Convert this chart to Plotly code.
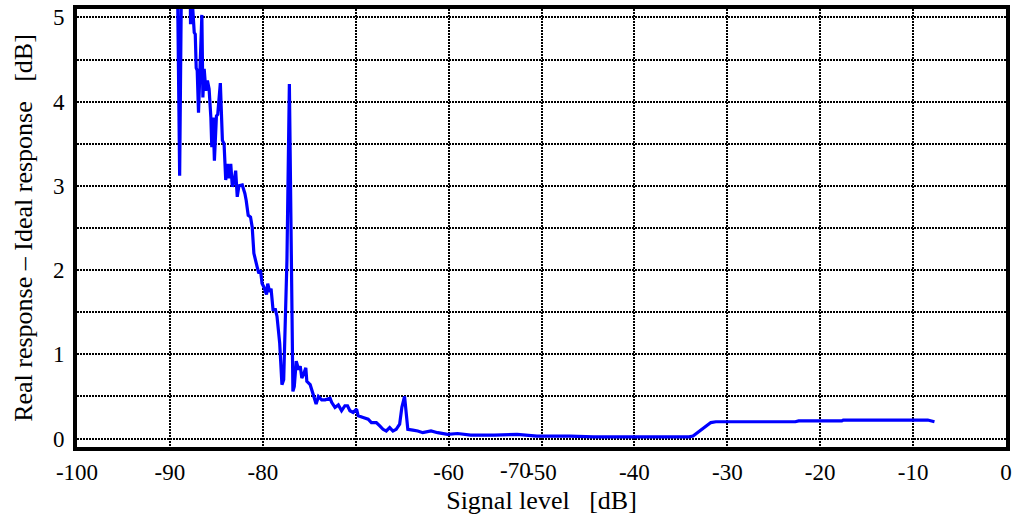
import plotly.graph_objects as go

signal_level = [
    -89.31, -89.17, -88.95, -88.77, -88.34, -87.81, -87.78, -87.65, -87.38, -87.27,
    -87.17, -87.06, -86.92, -86.56, -86.45, -86.31, -86.13, -85.96, -85.78, -85.59,
    -85.49, -85.35, -85.21, -84.99, -84.85, -84.57, -84.35, -84.17, -83.99, -83.82,
    -83.64, -83.45, -83.28, -83.10, -82.92, -82.75, -82.57, -82.21, -81.93, -81.79,
    -81.57, -81.32, -81.14, -80.96, -80.61, -80.43, -80.25, -80.08, -79.89, -79.60,
    -79.47, -79.25, -79.11, -78.90, -78.64, -78.47, -78.18, -77.94, -77.75, -77.57,
    -77.40, -77.14, -76.93, -76.76, -76.61, -76.40, -76.15, -75.97, -75.80, -75.62,
    -75.37, -75.26, -74.90, -74.55, -74.26, -74.01, -73.66, -73.29, -72.76, -72.59,
    -72.23, -71.87, -71.52, -71.16, -70.88, -70.62, -70.27, -69.91, -69.73, -69.20,
    -68.66, -68.31, -67.78, -67.41, -67.06, -66.71, -66.34, -65.99, -65.64, -65.27,
    -65.03, -64.74, -64.57, -64.39, -63.85, -63.32, -62.78, -61.89, -61.18, -60.11,
    -59.04, -57.62, -55.08, -52.62, -50.48, -46.95, -44.39, -38.72, -34.12, -33.69,
    -33.02, -31.77, -31.23, -28.38, -22.68, -22.32, -17.68, -17.51, -8.42, -7.70,
]
response_error = [
    5.50, 5.30, 3.12, 5.30, 5.60, 5.30, 4.92, 5.30, 4.82, 4.80,
    4.40, 4.37, 3.87, 5.03, 4.05, 4.39, 4.13, 4.25, 4.15, 3.81,
    3.46, 3.81, 3.30, 3.83, 3.85, 4.22, 3.54, 3.50, 3.07, 3.26,
    3.09, 3.26, 2.99, 3.05, 3.18, 2.87, 3.00, 3.01, 2.91, 2.83,
    2.65, 2.63, 2.51, 2.20, 2.04, 1.96, 2.00, 1.84, 1.80, 1.71,
    1.84, 1.74, 1.78, 1.53, 1.53, 1.45, 1.13, 0.64, 0.70, 1.33,
    2.12, 4.21, 2.12, 0.56, 0.62, 0.92, 0.82, 0.86, 0.72, 0.76,
    0.84, 0.68, 0.64, 0.52, 0.41, 0.50, 0.46, 0.46, 0.48, 0.43,
    0.37, 0.40, 0.33, 0.39, 0.39, 0.33, 0.31, 0.35, 0.27, 0.25,
    0.23, 0.19, 0.19, 0.15, 0.11, 0.09, 0.13, 0.09, 0.11, 0.17,
    0.37, 0.50, 0.31, 0.11, 0.10, 0.09, 0.07, 0.09, 0.07, 0.05,
    0.06, 0.04, 0.04, 0.05, 0.03, 0.03, 0.02, 0.02, 0.02, 0.03,
    0.09, 0.19, 0.20, 0.20, 0.20, 0.21, 0.21, 0.22, 0.22, 0.20,
]

x_tick_vals = [-100, -90, -80, -70, -60, -50, -40, -30, -20, -10, 0]
x_tick_text = ["-100", "-90", "-80", "", "-60", "-50", "-40", "-30", "-20", "-10", "0"]
y_tick_vals = [0, 0.5, 1, 1.5, 2, 2.5, 3, 3.5, 4, 4.5, 5]
y_tick_text = ["0", "", "1", "", "2", "", "3", "", "4", "", "5"]
misplaced_label = "-70"
misplaced_label_x = -52.8

FONT = "Liberation Serif, Times New Roman, serif"

fig = go.Figure()
fig.add_trace(go.Scatter(
    x=signal_level, y=response_error, mode="lines",
    line=dict(color="#0000FF", width=3.2), showlegend=False,
))

axis_common = dict(
    showline=True, linewidth=4, linecolor="black", mirror=True,
    showgrid=True, gridcolor="black", gridwidth=1.5, griddash="1.5px,1.5px",
    zeroline=False, ticks="", tickfont=dict(family=FONT, size=23, color="black"),
)

fig.update_xaxes(
    range=[-100, 0], tickmode="array", tickvals=x_tick_vals, ticktext=x_tick_text,
    title=dict(text="Signal level\u00a0\u00a0\u00a0[dB]", font=dict(family=FONT, size=26, color="black"), standoff=8),
    ticklabelstandoff=1,
    **axis_common,
)
fig.update_yaxes(
    range=[-0.1, 5.1], tickmode="array", tickvals=y_tick_vals, ticktext=y_tick_text,
    title=dict(text="Real response \u2013 Ideal response\u00a0\u00a0\u00a0[dB]", font=dict(family=FONT, size=26, color="black"), standoff=14),
    ticklabelstandoff=4,
    **axis_common,
)

fig.add_annotation(
    x=misplaced_label_x, xref="x", y=0, yref="paper", yshift=-9,
    text=misplaced_label, showarrow=False, yanchor="top",
    font=dict(family=FONT, size=23, color="black"),
)

fig.update_layout(
    width=1017, height=521,
    margin=dict(l=77, r=5, t=5, b=74),
    paper_bgcolor="white", plot_bgcolor="white",
)

fig.write_html("out.html")
